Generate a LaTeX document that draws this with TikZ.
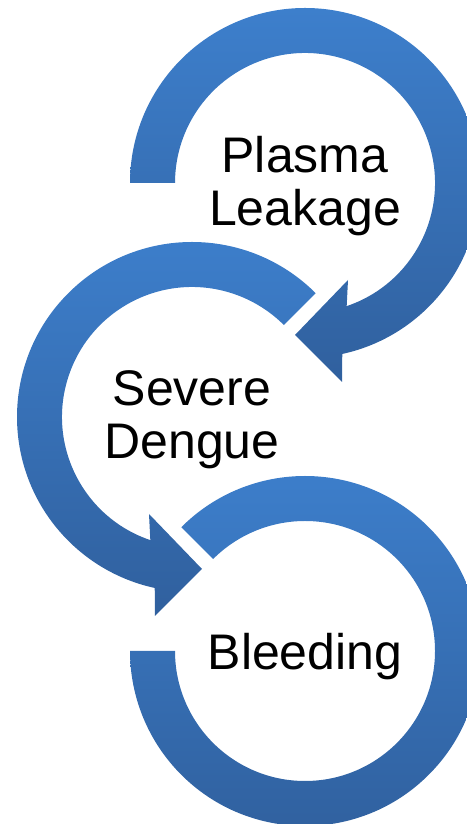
\documentclass[tikz,border=0pt]{standalone}
\usepackage{fontspec}
\setmainfont{Liberation Sans}
\usetikzlibrary{calc}

\definecolor{ringtop}{RGB}{61,127,204}
\definecolor{ringbot}{RGB}{48,96,158}

\begin{document}
\begin{tikzpicture}[
    x=1pt, y=1pt,
    every node/.style={font=\fontsize{50}{53}\selectfont},
    stage/.style={align=center, text=black, inner sep=0pt},
    ring/.style={top color=ringtop, bottom color=ringbot, draw=none}
]
\useasboundingbox (0,0) rectangle (466,824);

% Centri degli anelli
\coordinate (c1) at (305,641);
\coordinate (c2) at (192,407);
\coordinate (c3) at (305,173);

% Testi
\node[stage] (plasma)   at ($(c1)+(0,-3)$) {Plasma\\Leakage};
\node[stage] (severe)   at ($(c2)+(0,-3)$) {Severe\\Dengue};
\node[stage] (bleeding) at ($(c3)+(0,-6)$) {Bleeding};

% Anello 1 (freccia verso il basso a sinistra)
\shade[ring] (c1) ++(180:175) arc[start angle=180, end angle=-77.7, radius=175]
    -- ($(c1)+(37,-199)$) -- ($(c1)+(-10,-152)$) -- ($(c1)+(43,-97)$)
    -- ($(c1)+(-71.3:130)$) arc[start angle=-71.3, end angle=180, radius=130] -- cycle;

% Anello 2 (freccia verso il basso a destra)
\shade[ring] (c2) ++(45:175) arc[start angle=45, end angle=257.7, radius=175]
    -- ($(c2)+(-37,-199)$) -- ($(c2)+(10,-152)$) -- ($(c2)+(-43,-97)$)
    -- ($(c2)+(251.3:130)$) arc[start angle=251.3, end angle=45, radius=130] -- cycle;

% Anello 3 (senza freccia)
\shade[ring] (c3) ++(135:175) arc[start angle=135, end angle=-180, radius=175]
    -- ++(45,0) arc[start angle=-180, end angle=135, radius=130] -- cycle;

\end{tikzpicture}
\end{document}
